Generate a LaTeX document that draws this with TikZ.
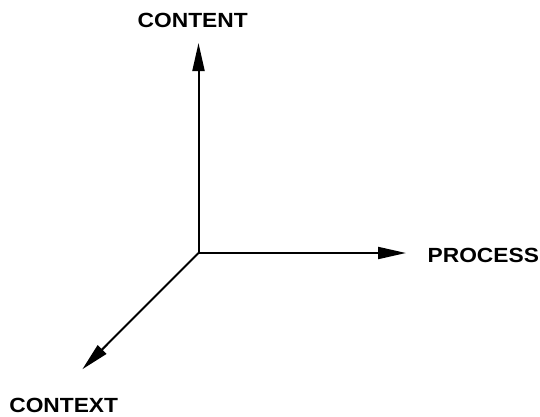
\documentclass[tikz,border=0pt]{standalone}
\usepackage{fontspec}
\setmainfont{Liberation Sans}
\usetikzlibrary{arrows.meta}
\begin{document}
\begin{tikzpicture}[x=1pt,y=1pt,
  axis/.style={line width=2pt,-{Triangle[length=28pt,width=12pt]}},
  axislabel/.style={inner sep=0pt,font=\fontsize{20.5}{24}\selectfont\bfseries}]
\useasboundingbox (0,0) rectangle (540,416);
\fill[white] (0,0) rectangle (540,416);
% origin and arrow tips
\coordinate (o) at (198.5,163);
\coordinate (up) at (198.5,373);
\coordinate (right) at (406,163);
\coordinate (down) at (82.3,46.7);
% axis labels
\node[axislabel] (content) at (192.7,396) {\scalebox{1.11}[1]{CONTENT}};
\node[axislabel] (process) at (483.3,160.2) {\scalebox{1.11}[1]{PROCESS}};
\node[axislabel] (context) at (63.7,10.2) {\scalebox{1.11}[1]{CONTEXT}};
% axes
\draw[axis] (o) -- (up);
\draw[axis] (o) -- (right);
\draw[axis] (o) -- (down);
\end{tikzpicture}
\end{document}
